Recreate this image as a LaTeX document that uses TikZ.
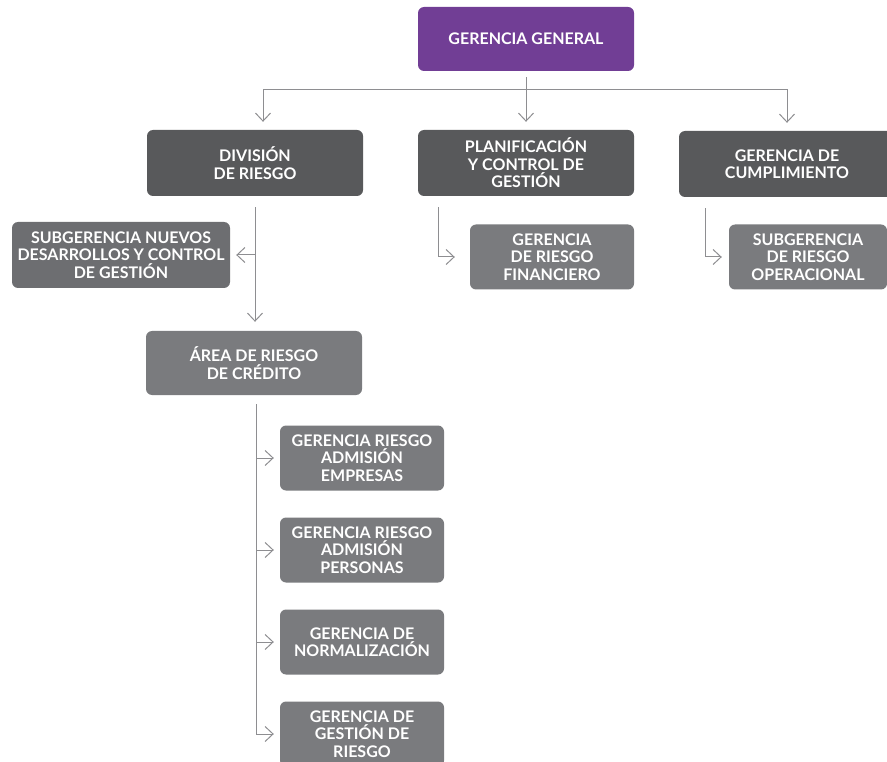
\documentclass[tikz,border=0pt]{standalone}
\usepackage{fontspec}
\setmainfont{Lato}
\usetikzlibrary{arrows.meta}
\definecolor{purplebox}{HTML}{713E95}
\definecolor{darkbox}{HTML}{58595B}
\definecolor{midbox}{HTML}{6D6E71}
\definecolor{lightbox}{HTML}{7A7B7E}
\definecolor{linegray}{HTML}{8E8E91}
\begin{document}
\begin{tikzpicture}[x=1pt,y=-1pt]
    \tikzstyle{box}=[rounded corners=6pt, text=white, align=center, inner sep=0pt, font=\bfseries\fontsize{16}{17.5}\selectfont]
    \tikzstyle{topbox}=[box, fill=purplebox, minimum width=216pt, minimum height=64pt]
    \tikzstyle{headbox}=[box, fill=darkbox, minimum width=216pt, minimum height=66pt]
    \tikzstyle{unitbox}=[box, fill=lightbox, minimum width=164pt, minimum height=65pt]
    \tikzstyle{wire}=[draw=linegray, line width=1pt]
    \tikzstyle{link}=[wire, -{Straight Barb[length=8pt,width=15pt]}]
    \useasboundingbox (0,0) rectangle (887,762);
    \node [topbox] (gg) at (526,39) {GERENCIA GENERAL};
    \node [headbox] (div) at (255,163) {DIVISIÓN\\DE RIESGO};
    \node [headbox] (plan) at (526,163) {PLANIFICACIÓN\\Y CONTROL DE\\GESTIÓN};
    \node [headbox] (cum) at (787,164) {GERENCIA DE\\CUMPLIMIENTO};
    \node [headbox, fill=midbox, minimum width=218pt] (nue) at (121,255) {SUBGERENCIA NUEVOS\\DESARROLLOS Y CONTROL\\DE GESTIÓN};
    \node [unitbox, minimum width=216pt, minimum height=64pt] (area) at (254,363) {ÁREA DE RIESGO\\DE CRÉDITO};
    \node [unitbox] (fin) at (552,257) {GERENCIA\\DE RIESGO\\FINANCIERO};
    \node [unitbox, minimum width=158pt] (ope) at (808,257) {SUBGERENCIA\\DE RIESGO\\OPERACIONAL};
    \node [unitbox] (emp) at (362,458) {GERENCIA RIESGO\\ADMISIÓN\\EMPRESAS};
    \node [unitbox] (per) at (362,550) {GERENCIA RIESGO\\ADMISIÓN\\PERSONAS};
    \node [unitbox] (nor) at (362,642) {GERENCIA DE\\NORMALIZACIÓN};
    \node [unitbox] (ges) at (362,734) {GERENCIA DE\\GESTIÓN DE\\RIESGO};
    % top level
    \coordinate (bus) at (526,90);
    \draw [wire, shorten <=6pt] (gg) -- (bus);
    \draw [link, shorten >=8pt] (bus) -- (plan);
    \draw [link, shorten >=8pt] (bus) -| ([xshift=8pt]div.north);
    \draw [link, shorten >=8pt] (bus) -| (cum.north);
    % division de riesgo
    \draw [link, shorten <=11pt, shorten >=9pt] (div.south) -- (div.south |- area.north);
    \draw [link, shorten >=6pt] (div.south |- nue.east) -- (nue.east);
    \draw [link, shorten <=11pt, shorten >=15pt] ([xshift=-88pt]plan.south) |- (fin.west);
    \draw [link, shorten <=11pt, shorten >=7pt] ([xshift=-82pt]cum.south) |- (ope.west);
    % area de riesgo de credito
    \draw [link, shorten <=9pt, shorten >=6pt] ([xshift=2pt]area.south) |- (ges.west);
    \foreach \n in {emp,per,nor}
        \draw [link, shorten >=6pt] ([xshift=2pt]area.south |- \n.west) -- (\n.west);
\end{tikzpicture}
\end{document}
